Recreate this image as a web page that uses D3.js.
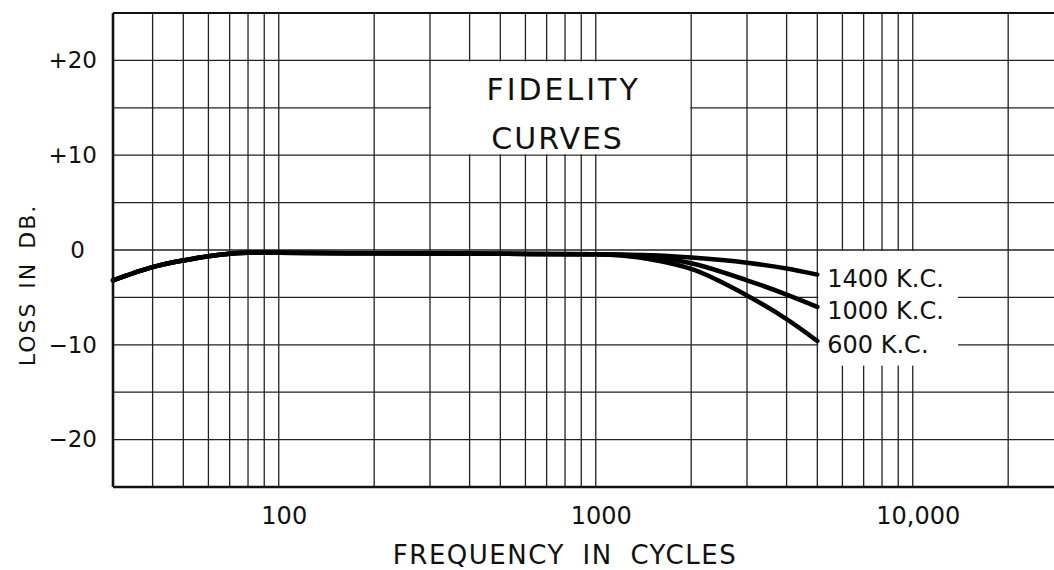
<!DOCTYPE html>
<html>
<head>
<meta charset="utf-8">
<script src="https://cdn.jsdelivr.net/npm/d3@7"></script>
<style>
  body { margin: 0; background: #fff; }
  text { font-family: "DejaVu Sans", sans-serif; fill: #111; }
</style>
</head>
<body>
<div id="chart"></div>
<script>
// Frequencies (cycles) and loss in db for each carrier frequency
var freqs  = [30, 40, 50, 60, 70, 80, 100, 200, 500, 1000, 1500, 2000, 3000, 4000, 5000];
var kc1400 = [-3.2, -1.8, -1.1, -0.65, -0.4, -0.3, -0.3, -0.35, -0.4, -0.45, -0.55, -0.8, -1.35, -1.95, -2.6];
var kc1000 = [-3.2, -1.8, -1.1, -0.65, -0.4, -0.3, -0.3, -0.35, -0.4, -0.45, -0.7, -1.4, -3.2, -4.7, -6.0];
var kc600  = [-3.2, -1.8, -1.1, -0.65, -0.4, -0.3, -0.3, -0.35, -0.4, -0.45, -1.0, -2.0, -4.8, -7.3, -9.6];
var seriesNames = ["1400 K.C.", "1000 K.C.", "600 K.C."];

// Tick labels
var yTickValues = [20, 10, 0, -10, -20];
var yTickLabels = ["+20", "+10", "0", "\u221210", "\u221220"];
var xTickValues = [100, 1000, 10000];
var xTickLabels = ["100", "1000", "10,000"];

var width = 1054, height = 570;

var svg = d3.select("#chart")
    .append("svg")
    .attr("width", width)
    .attr("height", height);

// Scales (log frequency, plot runs off the right edge like the original)
var x = d3.scaleLog().domain([30, 30000]).range([113, 1064]);
var y = d3.scaleLinear().domain([-25, 25]).range([487, 13]);

// Grid
var grid = svg.append("g")
    .attr("stroke", "#222")
    .attr("stroke-width", 1.3);

grid.selectAll("line.v")
    .data(x.ticks())
    .enter().append("line")
    .attr("class", "v")
    .attr("x1", function (d) { return x(d); })
    .attr("x2", function (d) { return x(d); })
    .attr("y1", y(25))
    .attr("y2", y(-25));

grid.selectAll("line.h")
    .data(d3.range(-25, 26, 5))
    .enter().append("line")
    .attr("class", "h")
    .attr("x1", x(30))
    .attr("x2", x(30000))
    .attr("y1", function (d) { return y(d); })
    .attr("y2", function (d) { return y(d); });

// White label boxes that blank out the grid
var titleBox = { f0: 300, f1: 2000, v0: 20, v1: 10 };
var legendBox = { f0: 5000, f1: 14000, v0: 0, v1: -12.3 };

[titleBox, legendBox].forEach(function (b) {
    svg.append("rect")
        .attr("x", x(b.f0) + 1)
        .attr("y", y(b.v0) + 1)
        .attr("width", x(b.f1) - x(b.f0) - 2)
        .attr("height", y(b.v1) - y(b.v0) - 2)
        .attr("fill", "#fff");
});

// Curves
var line = d3.line()
    .x(function (d, i) { return x(freqs[i]); })
    .y(function (d) { return y(d); })
    .curve(d3.curveMonotoneX);

var allSeries = [kc1400, kc1000, kc600];

svg.selectAll("path.curve")
    .data(allSeries)
    .enter().append("path")
    .attr("class", "curve")
    .attr("fill", "none")
    .attr("stroke", "#000")
    .attr("stroke-width", 4.5)
    .attr("stroke-linecap", "round")
    .attr("d", line);

// Curve labels at the end of each line
svg.selectAll("text.series")
    .data(allSeries)
    .enter().append("text")
    .attr("class", "series")
    .attr("x", x(5000) + 10)
    .attr("y", function (d) { return y(d[d.length - 1]) + 12; })
    .attr("font-size", 24)
    .text(function (d, i) { return seriesNames[i]; });

// Frame
svg.append("line")
    .attr("x1", x(30)).attr("x2", x(30000))
    .attr("y1", y(25)).attr("y2", y(25))
    .attr("stroke", "#111").attr("stroke-width", 2.2);
svg.append("line")
    .attr("x1", x(30)).attr("x2", x(30000))
    .attr("y1", y(-25)).attr("y2", y(-25))
    .attr("stroke", "#111").attr("stroke-width", 2.6);
svg.append("line")
    .attr("x1", x(30)).attr("x2", x(30))
    .attr("y1", y(25)).attr("y2", y(-25))
    .attr("stroke", "#111").attr("stroke-width", 2.6);

// Y axis labels
var yAxis = svg.append("g")
    .attr("transform", "translate(" + x(30) + ",0)")
    .call(d3.axisLeft(y)
        .tickValues(yTickValues)
        .tickSize(0)
        .tickPadding(16)
        .tickFormat(function (d, i) { return yTickLabels[i]; }));
yAxis.select(".domain").remove();
yAxis.selectAll("text")
    .attr("font-size", 23)
    .attr("font-family", "DejaVu Sans, sans-serif")
    .attr("fill", "#111")
    .attr("dx", function (d) { return d === 0 ? -12 : 0; });

// X axis labels
var xAxis = svg.append("g")
    .attr("transform", "translate(0," + y(-25) + ")")
    .call(d3.axisBottom(x)
        .tickValues(xTickValues)
        .tickSize(0)
        .tickPadding(20)
        .tickFormat(function (d, i) { return xTickLabels[i]; }));
xAxis.select(".domain").remove();
xAxis.selectAll("text")
    .attr("font-size", 24)
    .attr("font-family", "DejaVu Sans, sans-serif")
    .attr("fill", "#111")
    .attr("dx", 5);

// Title inside the top box
var titleX = (x(titleBox.f0) + x(titleBox.f1)) / 2;
svg.append("text")
    .attr("x", titleX + 3)
    .attr("y", 100)
    .attr("text-anchor", "middle")
    .attr("font-size", 30)
    .attr("letter-spacing", 3)
    .text("FIDELITY");
svg.append("text")
    .attr("x", titleX - 3)
    .attr("y", 149)
    .attr("text-anchor", "middle")
    .attr("font-size", 30)
    .attr("letter-spacing", 2)
    .text("CURVES");

// Axis titles
svg.append("text")
    .attr("x", 565)
    .attr("y", 564)
    .attr("text-anchor", "middle")
    .attr("font-size", 26)
    .attr("letter-spacing", 1.5)
    .attr("word-spacing", 8)
    .text("FREQUENCY IN CYCLES");

svg.append("text")
    .attr("transform", "translate(35,285) rotate(-90)")
    .attr("text-anchor", "middle")
    .attr("font-size", 22)
    .attr("letter-spacing", 2)
    .attr("word-spacing", 4)
    .text("LOSS IN DB.");
</script>
</body>
</html>
